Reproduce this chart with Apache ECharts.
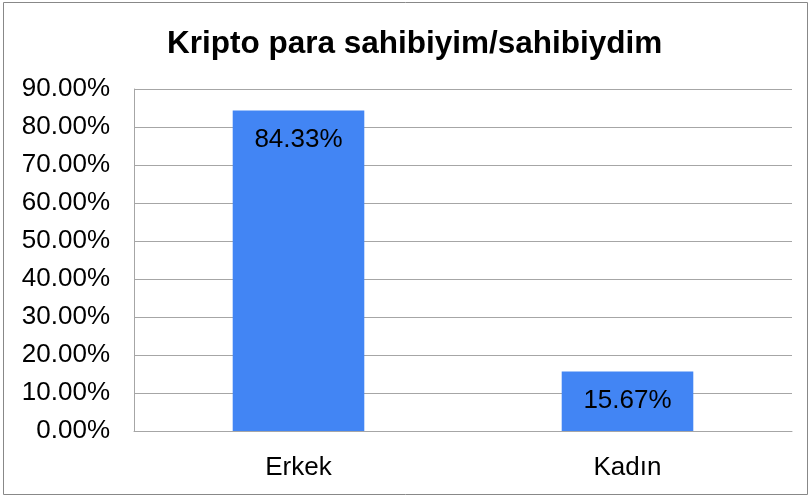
<!DOCTYPE html>
<html>
<head>
<meta charset="utf-8">
<script src="https://cdn.jsdelivr.net/npm/echarts@6/dist/echarts.min.js"></script>
<style>html,body{margin:0;padding:0;background:#fff}#c{width:810px;height:497px}</style>
</head>
<body>
<div id="c"></div>
<script>
const titleText = 'Kripto para sahibiyim/sahibiydim';
const categories = ['Erkek', 'Kadın'];
const values = [84.33, 15.67];
const yTicks = { min: 0, max: 90, interval: 10 };

const chart = echarts.init(document.getElementById('c'), null, { renderer: 'canvas' });
const font = 'Arial, "Liberation Sans", sans-serif';
chart.setOption({
  animation: false,
  backgroundColor: '#fff',
  graphic: [{
    type: 'rect', shape: { x: 3.5, y: 2.5, width: 804, height: 492 },
    style: { fill: 'none', stroke: '#888', lineWidth: 1 }, silent: true
  }],
  title: {
    text: titleText, left: 162, top: 23,
    textStyle: { fontFamily: font, fontSize: 31.5, fontWeight: 'bold', color: '#000' }
  },
  grid: { left: 134, right: 18, top: 89, bottom: 66, containLabel: false },
  xAxis: {
    type: 'category', data: categories,
    axisLine: { show: true, lineStyle: { color: '#a6a6a6', width: 1 } },
    axisTick: { show: false },
    axisLabel: { margin: 24, fontFamily: font, fontSize: 26, color: '#000' },
    splitLine: { show: false }
  },
  yAxis: {
    type: 'value', min: yTicks.min, max: yTicks.max, interval: yTicks.interval,
    axisLine: { show: true, lineStyle: { color: '#a6a6a6', width: 1 } },
    axisTick: { show: false },
    axisLabel: { margin: 24, fontFamily: font, fontSize: 26, color: '#000', formatter: v => v.toFixed(2) + '%' },
    splitLine: { show: true, lineStyle: { color: '#a6a6a6', width: 1 } }
  },
  series: [{
    type: 'bar', data: values, barWidth: '40%',
    itemStyle: { color: '#4285F4' },
    label: {
      show: true, position: 'insideTop', distance: 16,
      fontFamily: font, fontSize: 26, color: '#000',
      formatter: p => p.value.toFixed(2) + '%'
    }
  }]
});
</script>
</body>
</html>
